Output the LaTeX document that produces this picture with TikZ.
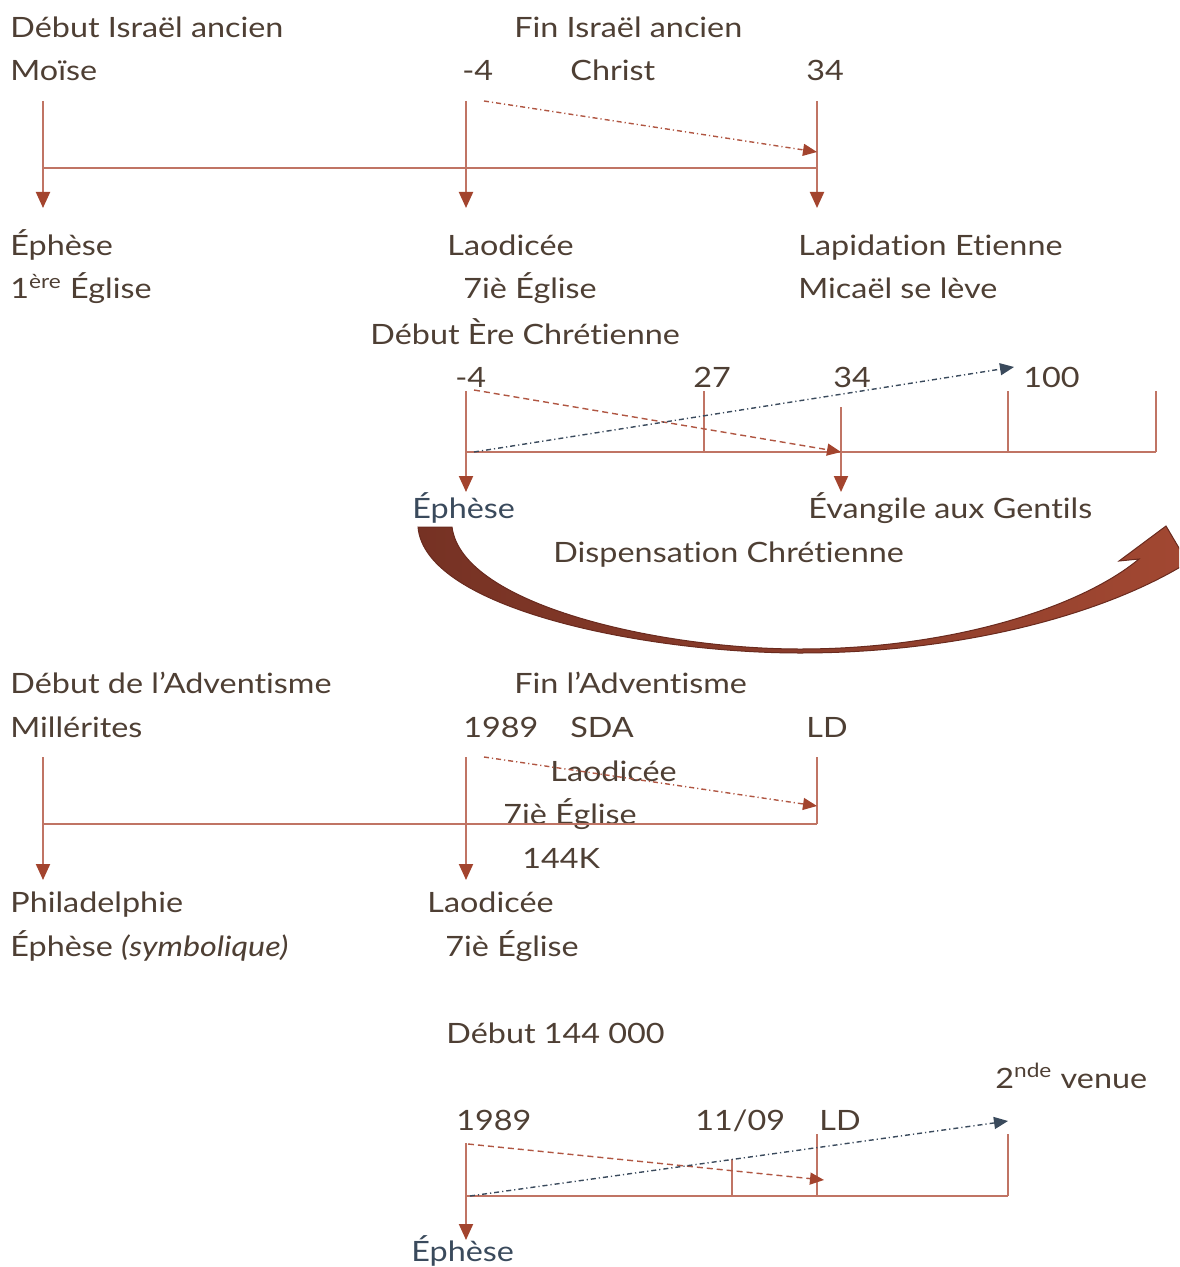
\documentclass[tikz,border=0pt]{standalone}
\usepackage{fontspec}
\setmainfont{Lato}[FakeStretch=1.155, Ligatures=NoCommon]
\usetikzlibrary{arrows.meta}
\definecolor{txt}{RGB}{78,63,52}
\definecolor{bluegray}{RGB}{58,74,92}
\definecolor{lineC}{RGB}{192,116,100}
\definecolor{arrC}{RGB}{163,68,46}
\definecolor{bigA}{RGB}{118,50,36}
\definecolor{bigB}{RGB}{162,72,50}
\definecolor{bigE}{RGB}{105,42,30}
\definecolor{redD}{RGB}{176,86,66}
\begin{document}
\begin{tikzpicture}[x=0.5pt,y=-0.5pt,
  lbl/.style={anchor=base west, inner sep=0pt, font=\fontsize{14pt}{16pt}\selectfont, text=txt},
  lblb/.style={lbl, text=bluegray},
  tl/.style={draw=lineC, line width=1pt},
  tlarr/.style={tl, -{Triangle[width=7pt,length=8pt,color=arrC,fill=arrC]}},
  reddd/.style={draw=redD, line width=0.7pt, dash pattern=on 2.5pt off 1.5pt on 0.6pt off 1.5pt, -{Triangle[width=6pt,length=7pt,color=arrC,fill=arrC]}},
  reddash/.style={draw=redD, line width=0.7pt, dash pattern=on 3pt off 2pt, -{Triangle[width=6pt,length=7pt,color=arrC,fill=arrC]}},
  bluedd/.style={draw=bluegray, line width=0.7pt, dash pattern=on 2.5pt off 1.5pt on 0.6pt off 1.5pt, -{Triangle[width=6pt,length=7pt,color=bluegray,fill=bluegray]}}
]
\useasboundingbox (0,0) rectangle (1179,1267);
\begin{scope}
\clip (0,0) rectangle (1179,1267);
% big curved arrow
\path[left color=bigA, right color=bigB, draw=bigE, line width=0.5pt]
  (418,527) -- (452,527)
  .. controls (462,605) and (660,649) .. (800,649)
  .. controls (950,649) and (1080,608) .. (1139,559)
  -- (1119,561) -- (1166,526) -- (1192,570) -- (1182,566)
  .. controls (1100,615) and (960,653) .. (800,653)
  .. controls (650,653) and (425,610) .. (418,527) -- cycle;
\end{scope}

% ===== Section 1 =====
\node[lbl] (t1a) at (10,38) {Début Israël ancien};
\node[lbl] (t1b) at (10,81) {Moïse};
\node[lbl] (t1c) at (514,38) {Fin Israël ancien};
\node[lbl] (t1d) at (462,81) {-4};
\node[lbl] (t1e) at (570,81) {Christ};
\node[lbl] (t1f) at (806,81) {34};
\node[lbl] (t1g) at (10,256) {Éphèse};
\node[lbl] (t1h) at (10,299) {1\textsuperscript{ère} Église};
\node[lbl] (t1i) at (447,256) {Laodicée};
\node[lbl] (t1j) at (463,299) {7iè Église};
\node[lbl] (t1k) at (798,256) {Lapidation Etienne};
\node[lbl] (t1l) at (798,299) {Micaël se lève};
\coordinate (a1t) at (43,101);  \coordinate (a1b) at (43,208);
\coordinate (b1t) at (466,101); \coordinate (b1b) at (466,208);
\coordinate (c1t) at (817,101); \coordinate (c1b) at (817,208);
\coordinate (h1l) at (43,168);  \coordinate (h1r) at (817,168);
\coordinate (d1s) at (484,101); \coordinate (d1e) at (817,152);
\draw[tl] (h1l) -- (h1r);
\draw[tlarr] (a1t) -- (a1b);
\draw[tlarr] (b1t) -- (b1b);
\draw[tlarr] (c1t) -- (c1b);
\draw[reddd] (d1s) -- (d1e);

% ===== Section 2 =====
\node[lbl] (t2a) at (370,344) {Début Ère Chrétienne};
\node[lbl] (t2b) at (455,387) {-4};
\node[lbl] (t2c) at (693,387) {27};
\node[lbl] (t2d) at (833,387) {34};
\node[lbl] (t2e) at (1023,387) {100};
\node[lbl] (t2g) at (808,518) {Évangile aux Gentils};
\node[lbl] (t2h) at (553,562) {Dispensation Chrétienne};
\coordinate (a2t) at (466,391);  \coordinate (a2b) at (466,492);
\coordinate (b2t) at (704,391);  \coordinate (b2b) at (704,452);
\coordinate (c2t) at (841,407);  \coordinate (c2b) at (841,492);
\coordinate (e2t) at (1008,391); \coordinate (e2b) at (1008,452);
\coordinate (f2t) at (1156,391); \coordinate (f2b) at (1156,452);
\coordinate (h2l) at (466,452);  \coordinate (h2r) at (1156,452);
\coordinate (r2s) at (474,390);  \coordinate (r2e) at (841,452);
\coordinate (u2s) at (474,452);  \coordinate (u2e) at (1014,367);
\draw[tl] (h2l) -- (h2r);
\draw[tl] (b2t) -- (b2b);
\draw[tl] (e2t) -- (e2b);
\draw[tl] (f2t) -- (f2b);
\draw[tlarr] (a2t) -- (a2b);
\draw[tlarr] (c2t) -- (c2b);
\draw[reddash] (r2s) -- (r2e);
\draw[bluedd] (u2s) -- (u2e);
\node[lblb] (t2f) at (412,518) {Éphèse};

% ===== Section 3 =====
\node[lbl] (t3a) at (10,693) {Début de l’Adventisme};
\node[lbl] (t3b) at (10,737) {Millérites};
\node[lbl] (t3c) at (514,693) {Fin l’Adventisme};
\node[lbl] (t3d) at (463,737) {1989};
\node[lbl] (t3e) at (570,737) {SDA};
\node[lbl] (t3f) at (806,737) {LD};
\node[lbl] (t3g) at (550,781) {Laodicée};
\node[lbl] (t3h) at (503,824) {7iè Église};
\node[lbl] (t3i) at (522,868) {144K};
\node[lbl] (t3j) at (10,912) {Philadelphie};
\node[lbl] (t3k) at (10,956) {Éphèse \textit{(symbolique)}};
\node[lbl] (t3l) at (427,912) {Laodicée};
\node[lbl] (t3m) at (445,956) {7iè Église};
\coordinate (a3t) at (43,757);  \coordinate (a3b) at (43,880);
\coordinate (b3t) at (466,757); \coordinate (b3b) at (466,880);
\coordinate (c3t) at (817,757); \coordinate (c3b) at (817,824);
\coordinate (h3l) at (43,824);  \coordinate (h3r) at (817,824);
\coordinate (d3s) at (484,757); \coordinate (d3e) at (817,806);
\draw[tl, line width=1.4pt] (h3l) -- (h3r);
\draw[tl] (c3t) -- (c3b);
\draw[tlarr] (a3t) -- (a3b);
\draw[tlarr] (b3t) -- (b3b);
\draw[reddd] (d3s) -- (d3e);

% ===== Section 4 =====
\node[lbl] (t4a) at (446,1043) {Début 144 000};
\node[lbl] (t4b) at (995,1088) {2\textsuperscript{nde} venue};
\node[lbl] (t4c) at (456,1130) {1989};
\node[lbl] (t4d) at (695,1130) {11/09};
\node[lbl] (t4e) at (819,1130) {LD};
\coordinate (a4t) at (466,1143); \coordinate (a4b) at (466,1240);
\coordinate (b4t) at (732,1159); \coordinate (b4b) at (732,1196);
\coordinate (c4t) at (817,1134); \coordinate (c4b) at (817,1196);
\coordinate (e4t) at (1008,1134); \coordinate (e4b) at (1008,1196);
\coordinate (h4l) at (466,1196); \coordinate (h4r) at (1008,1196);
\coordinate (r4s) at (468,1144); \coordinate (r4e) at (824,1180);
\coordinate (u4s) at (470,1196); \coordinate (u4e) at (1008,1121);
\draw[tl] (h4l) -- (h4r);
\draw[tl] (b4t) -- (b4b);
\draw[tl] (c4t) -- (c4b);
\draw[tl] (e4t) -- (e4b);
\draw[tlarr] (a4t) -- (a4b);
\draw[reddash] (r4s) -- (r4e);
\draw[bluedd] (u4s) -- (u4e);
\node[lblb] (t4f) at (411,1261) {Éphèse};
\end{tikzpicture}
\end{document}
